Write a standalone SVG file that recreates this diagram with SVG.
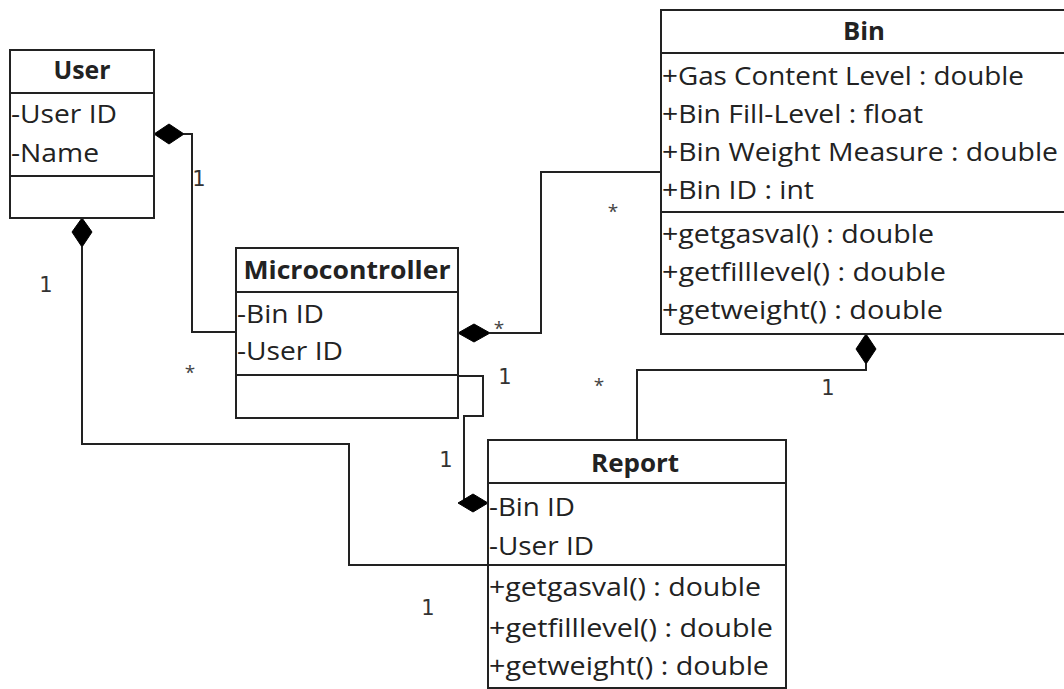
<svg xmlns="http://www.w3.org/2000/svg" width="1064" height="689" viewBox="0 0 1064 689">
<style>
.box{fill:#fff;stroke:#222;stroke-width:2}
.div{stroke:#222;stroke-width:2}
.t{font-family:"Open Sans","Liberation Sans",sans-serif;font-size:25px;fill:#222}
.h{font-family:"Open Sans","Liberation Sans",sans-serif;font-size:25px;font-weight:bold;fill:#222;text-anchor:middle}
.c{fill:none;stroke:#222;stroke-width:2}
.d{fill:#000;stroke:#000;stroke-width:1}
.m{font-family:"DejaVu Sans","Liberation Sans",sans-serif;font-size:21px;fill:#333;text-anchor:middle}
.s{font-family:"Open Sans","Liberation Sans",sans-serif;font-size:19px;fill:#444;text-anchor:middle}
</style>
<rect width="1064" height="689" fill="#fff"/>
<g id="connectors">
<polyline class="c" points="184,134 192,134 192,332 236,332"/>
<polyline class="c" points="82,247 82,444 349,444 349,565 488,565"/>
<polyline class="c" points="490,333 541,333 541,172 661,172"/>
<polyline class="c" points="866,364 866,370 637,370 637,440"/>
<polyline class="c" points="458,376 483,376 483,416 464,416 464,503"/>
<polygon class="d" points="154,134 169,124 184,134 169,144"/>
<polygon class="d" points="82,218 92,232 82,247 72,232"/>
<polygon class="d" points="458,333 474,324 490,333 474,342"/>
<polygon class="d" points="866,334 876,349 866,364 856,349"/>
<polygon class="d" points="458,503 473,494 488,503 473,512"/>
<text class="m" x="199" y="186">1</text>
<text class="m" x="46" y="292">1</text>
<text class="m" x="505" y="384">1</text>
<text class="m" x="828" y="395">1</text>
<text class="m" x="446" y="467">1</text>
<text class="m" x="428" y="615">1</text>
<text class="s" x="190" y="379">*</text>
<text class="s" x="613" y="218">*</text>
<text class="s" x="499" y="335">*</text>
<text class="s" x="599" y="392">*</text>
</g>
<g id="user">
<rect class="box" x="10" y="50" width="144" height="168"/>
<line class="div" x1="10" y1="93" x2="154" y2="93"/>
<line class="div" x1="10" y1="176" x2="154" y2="176"/>
<text class="h" x="82" y="79" textLength="57" lengthAdjust="spacingAndGlyphs">User</text>
<text class="t" x="11" y="123" textLength="106" lengthAdjust="spacingAndGlyphs">-User ID</text>
<text class="t" x="11" y="162" textLength="88" lengthAdjust="spacingAndGlyphs">-Name</text>
</g>
<g id="microcontroller">
<rect class="box" x="236" y="248" width="222" height="170"/>
<line class="div" x1="236" y1="292" x2="458" y2="292"/>
<line class="div" x1="236" y1="375" x2="458" y2="375"/>
<text class="h" x="347" y="279" textLength="207" lengthAdjust="spacingAndGlyphs">Microcontroller</text>
<text class="t" x="237" y="323" textLength="87" lengthAdjust="spacingAndGlyphs">-Bin ID</text>
<text class="t" x="237" y="360" textLength="106" lengthAdjust="spacingAndGlyphs">-User ID</text>
</g>
<g id="bin">
<rect class="box" x="661" y="10" width="420" height="324"/>
<line class="div" x1="661" y1="53" x2="1070" y2="53"/>
<line class="div" x1="661" y1="212" x2="1070" y2="212"/>
<text class="h" x="864" y="40" textLength="42" lengthAdjust="spacingAndGlyphs">Bin</text>
<text class="t" x="662" y="85" textLength="362" lengthAdjust="spacingAndGlyphs">+Gas Content Level : double</text>
<text class="t" x="662" y="123" textLength="261" lengthAdjust="spacingAndGlyphs">+Bin Fill-Level : float</text>
<text class="t" x="662" y="161" textLength="396" lengthAdjust="spacingAndGlyphs">+Bin Weight Measure : double</text>
<text class="t" x="662" y="199" textLength="152" lengthAdjust="spacingAndGlyphs">+Bin ID : int</text>
<text class="t" x="662" y="243" textLength="272" lengthAdjust="spacingAndGlyphs">+getgasval() : double</text>
<text class="t" x="662" y="281" textLength="284" lengthAdjust="spacingAndGlyphs">+getfilllevel() : double</text>
<text class="t" x="662" y="319" textLength="281" lengthAdjust="spacingAndGlyphs">+getweight() : double</text>
</g>
<g id="report">
<rect class="box" x="488" y="440" width="298" height="248"/>
<line class="div" x1="488" y1="483" x2="786" y2="483"/>
<line class="div" x1="488" y1="565" x2="786" y2="565"/>
<text class="h" x="635" y="472" textLength="88" lengthAdjust="spacingAndGlyphs">Report</text>
<text class="t" x="489" y="516" textLength="86" lengthAdjust="spacingAndGlyphs">-Bin ID</text>
<text class="t" x="489" y="555" textLength="105" lengthAdjust="spacingAndGlyphs">-User ID</text>
<text class="t" x="489" y="596" textLength="272" lengthAdjust="spacingAndGlyphs">+getgasval() : double</text>
<text class="t" x="489" y="637" textLength="284" lengthAdjust="spacingAndGlyphs">+getfilllevel() : double</text>
<text class="t" x="489" y="675" textLength="280" lengthAdjust="spacingAndGlyphs">+getweight() : double</text>
</g>
</svg>
